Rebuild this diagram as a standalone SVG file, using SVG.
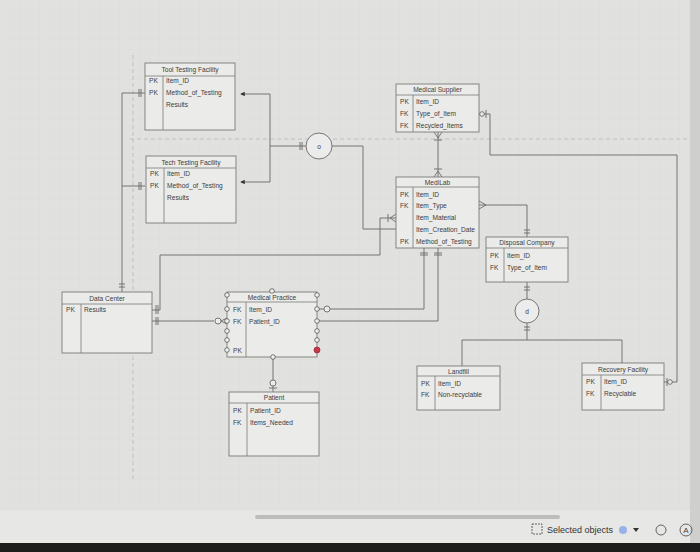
<svg xmlns="http://www.w3.org/2000/svg" width="700" height="552" viewBox="0 0 700 552">
<defs>
<pattern id="grid" width="10" height="10" patternUnits="userSpaceOnUse">
<path d="M10 0V10M0 10H10" fill="none" stroke="#d6d6d4" stroke-width="0.5"/>
</pattern>
<marker id="arr" viewBox="0 0 6 6" refX="5" refY="3" markerWidth="5" markerHeight="5" orient="auto">
<path d="M0 0L6 3L0 6Z" fill="#333"/>
</marker>
</defs>
<style>
.ent rect{fill:#ebebea;stroke:#7a7a7a;stroke-width:0.9}
.ent line{stroke:#7a7a7a;stroke-width:0.8}
text{font-family:"Liberation Sans",Arial,sans-serif;font-size:6.6px;fill:#3c3c3c}
.t{text-anchor:middle}
.c path,.c line,.c polyline{fill:none;stroke:#6a6a6a;stroke-width:0.9}
.c circle{fill:#ececec;stroke:#6a6a6a;stroke-width:0.9}
.h circle{fill:#f2f2f2;stroke:#555;stroke-width:0.8}
.h circle.red{fill:#c43a4a;stroke:#a02a38}
.pg{stroke:#b8b8b8;stroke-width:0.8;stroke-dasharray:4 3;fill:none}
</style>
<rect width="700" height="552" fill="#e1e1df"/>
<rect x="0" y="0" width="690" height="510" fill="url(#grid)"/>
<rect x="690" y="0" width="10" height="552" fill="#cfcfcd"/>
<g id="pagelines">
<path class="pg" d="M133 55V480M130 139H690"/>
</g>

<g id="connectors" class="c">
<!-- tool/tech testing to data center -->
<path d="M145 93H122V292"/>
<path d="M139 89V97M141 89V97M119 284H125M119 287H125"/>
<path d="M145 186H122"/>
<path d="M139 182V190M141 182V190"/>
<!-- tool to tech testing -->
<path d="M270 94H241" marker-end="url(#arr)"/>
<path d="M270 94V182H241" marker-end="url(#arr)"/>
<!-- circle o -->
<path d="M270 146H306"/>
<path d="M300 142V150M302 142V150"/>
<circle cx="319" cy="146" r="13"/>
<path d="M332 146H363V229H396"/>
<!-- supplier to medilab -->
<path d="M438 132V177"/>
<path d="M434 132L438 138L442 132M434 140H442M434 177L438 171L442 177M434 169H442"/>
<!-- supplier to recovery -->
<path d="M479 114H490V155H677V382H664"/>
<circle cx="482" cy="114" r="2.3"/>
<path d="M486 110V118"/>
<circle cx="670" cy="382" r="2.3"/>
<path d="M667 378V386"/>
<!-- medilab to disposal -->
<path d="M479 205H527V237"/>
<path d="M479 201L486 205L479 209M524 230H530M524 233H530"/>
<!-- medilab left to data center -->
<path d="M396 218H380V255H160V310H152"/>
<path d="M396 214L390 218L396 222M388 214V222"/>
<path d="M156 305V314M158 305V314"/>
<!-- data center to medical practice -->
<path d="M152 321H214"/>
<path d="M156 317V325M158 317V325"/>
<circle cx="218" cy="321" r="3"/>
<path d="M221 321L227 318M221 321L227 324"/>
<!-- medical practice to medilab -->
<path d="M316 309H324"/>
<circle cx="327" cy="309" r="3"/>
<path d="M330 309H424V248"/>
<path d="M318 321H438V248"/>
<path d="M420 253H428M420 255H428M434 253H442M434 255H442"/>
<!-- disposal to subtypes -->
<path d="M527 282V299"/>
<path d="M524 287H530M524 290H530"/>
<circle cx="527" cy="311" r="12"/>
<path d="M527 323V340M462 366V340H622V363"/>
<path d="M524 327H530M524 330H530"/>
<!-- medical practice to patient -->
<path d="M273 357V380M273 386V392"/>
<circle cx="273" cy="383" r="3"/>
<path d="M269 388H277"/>
</g>
<g class="c">
<text x="319" y="148.5" class="t" font-size="6">o</text>
<text x="527" y="313.5" class="t" font-size="6.5">d</text>
</g>

<g id="tool-testing" class="ent">
<rect x="145" y="63" width="90" height="67"/>
<line x1="145" y1="76" x2="235" y2="76"/><line x1="163" y1="76" x2="163" y2="130"/>
<text x="190" y="72" class="t">Tool Testing Facility</text>
<text x="149" y="83">PK</text><text x="166" y="83">Item_ID</text>
<text x="149" y="95">PK</text><text x="166" y="95">Method_of_Testing</text>
<text x="166" y="107">Results</text>
</g>

<g id="tech-testing" class="ent">
<rect x="146" y="156" width="90" height="67"/>
<line x1="146" y1="168" x2="236" y2="168"/><line x1="164" y1="168" x2="164" y2="223"/>
<text x="191" y="164.5" class="t">Tech Testing Facility</text>
<text x="150" y="176">PK</text><text x="167" y="176">Item_ID</text>
<text x="150" y="188">PK</text><text x="167" y="188">Method_of_Testing</text>
<text x="167" y="200">Results</text>
</g>

<g id="medical-supplier" class="ent">
<rect x="396" y="84" width="83" height="48"/>
<line x1="396" y1="95" x2="479" y2="95"/><line x1="413" y1="95" x2="413" y2="132"/>
<text x="437.5" y="92" class="t">Medical Supplier</text>
<text x="400" y="103.5">PK</text><text x="416" y="103.5">Item_ID</text>
<text x="400" y="116">FK</text><text x="416" y="116">Type_of_Item</text>
<text x="400" y="128">FK</text><text x="416" y="128">Recycled_Items</text>
</g>

<g id="medilab" class="ent">
<rect x="396" y="177" width="83" height="71"/>
<line x1="396" y1="187" x2="479" y2="187"/><line x1="413" y1="187" x2="413" y2="248"/>
<text x="437.5" y="184.5" class="t">MediLab</text>
<text x="400" y="196.5">PK</text><text x="416" y="196.5">Item_ID</text>
<text x="400" y="208">FK</text><text x="416" y="208">Item_Type</text>
<text x="416" y="220">Item_Material</text>
<text x="416" y="232">Item_Creation_Date</text>
<text x="400" y="243.5">PK</text><text x="416" y="243.5">Method_of_Testing</text>
</g>

<g id="disposal-company" class="ent">
<rect x="486" y="237" width="82" height="45"/>
<line x1="486" y1="248" x2="568" y2="248"/><line x1="504" y1="248" x2="504" y2="282"/>
<text x="527" y="245" class="t">Disposal Company</text>
<text x="490" y="258">PK</text><text x="507" y="258">Item_ID</text>
<text x="490" y="270">FK</text><text x="507" y="270">Type_of_Item</text>
</g>

<g id="data-center" class="ent">
<rect x="62" y="292" width="90" height="61"/>
<line x1="62" y1="304" x2="152" y2="304"/><line x1="81" y1="304" x2="81" y2="353"/>
<text x="107" y="300.5" class="t">Data Center</text>
<text x="66" y="312">PK</text><text x="84" y="312">Results</text>
</g>

<g id="medical-practice" class="ent">
<rect x="227" y="292" width="90" height="65"/>
<line x1="227" y1="302" x2="317" y2="302"/><line x1="246" y1="302" x2="246" y2="357"/>
<text x="272" y="299.5" class="t">Medical Practice</text>
<text x="233" y="311.5">FK</text><text x="249" y="311.5">Item_ID</text>
<text x="233" y="323.5">FK</text><text x="249" y="323.5">Patient_ID</text>
<text x="233" y="352.5">PK</text>
</g>
<g id="medical-practice-handles" class="h">
<circle cx="227" cy="295" r="2.3"/><circle cx="227" cy="309" r="2.3"/><circle cx="227" cy="321" r="2.3"/>
<circle cx="227" cy="331" r="2.3"/><circle cx="227" cy="340" r="2.3"/><circle cx="227" cy="350" r="2.3"/>
<circle cx="317" cy="295" r="2.3"/><circle cx="317" cy="309" r="2.3"/><circle cx="317" cy="321" r="2.3"/>
<circle cx="317" cy="331" r="2.3"/><circle cx="317" cy="340" r="2.3"/>
<circle class="red" cx="317" cy="350" r="3"/>
<circle cx="272" cy="291" r="2.3"/><circle cx="273" cy="357" r="2.3"/>
</g>

<g id="patient" class="ent">
<rect x="229" y="392" width="90" height="64"/>
<line x1="229" y1="403" x2="319" y2="403"/><line x1="247" y1="403" x2="247" y2="456"/>
<text x="274" y="400" class="t">Patient</text>
<text x="233" y="412.5">PK</text><text x="250" y="412.5">Patient_ID</text>
<text x="233" y="424.5">FK</text><text x="250" y="424.5">Items_Needed</text>
</g>

<g id="landfill" class="ent">
<rect x="417" y="366" width="83" height="44"/>
<line x1="417" y1="376" x2="500" y2="376"/><line x1="435" y1="376" x2="435" y2="410"/>
<text x="458.5" y="373.5" class="t">Landfill</text>
<text x="421" y="385.5">PK</text><text x="438" y="385.5">Item_ID</text>
<text x="421" y="397">FK</text><text x="438" y="397">Non-recyclable</text>
</g>

<g id="recovery-facility" class="ent">
<rect x="582" y="363" width="82" height="47"/>
<line x1="582" y1="375" x2="664" y2="375"/><line x1="601" y1="375" x2="601" y2="410"/>
<text x="623" y="371.5" class="t">Recovery Facility</text>
<text x="586" y="384">PK</text><text x="604" y="384">Item_ID</text>
<text x="586" y="395.5">FK</text><text x="604" y="395.5">Recyclable</text>
</g>

<g id="toolbar">
<rect x="0" y="510" width="690" height="33" fill="#e7e7e6"/>
<rect x="255" y="515" width="305" height="4" rx="2" fill="#bdbdbd"/>
<rect x="532" y="524" width="10" height="10" fill="none" stroke="#555" stroke-width="0.9" stroke-dasharray="2 1"/>
<text x="547" y="533" style="font-size:9px;fill:#333">Selected objects</text>
<circle cx="623" cy="530" r="4" fill="#9ab0e8"/>
<path d="M633 528H639L636 532Z" fill="#333"/>
<circle cx="661" cy="530" r="5" fill="none" stroke="#555" stroke-width="0.9"/>
<circle cx="686" cy="530" r="6" fill="none" stroke="#555" stroke-width="0.9"/>
<text x="686" y="533" class="t" style="font-size:8px;fill:#444">A</text>
<rect x="0" y="543" width="700" height="9" fill="#1c1c1c"/>
</g>
</svg>
